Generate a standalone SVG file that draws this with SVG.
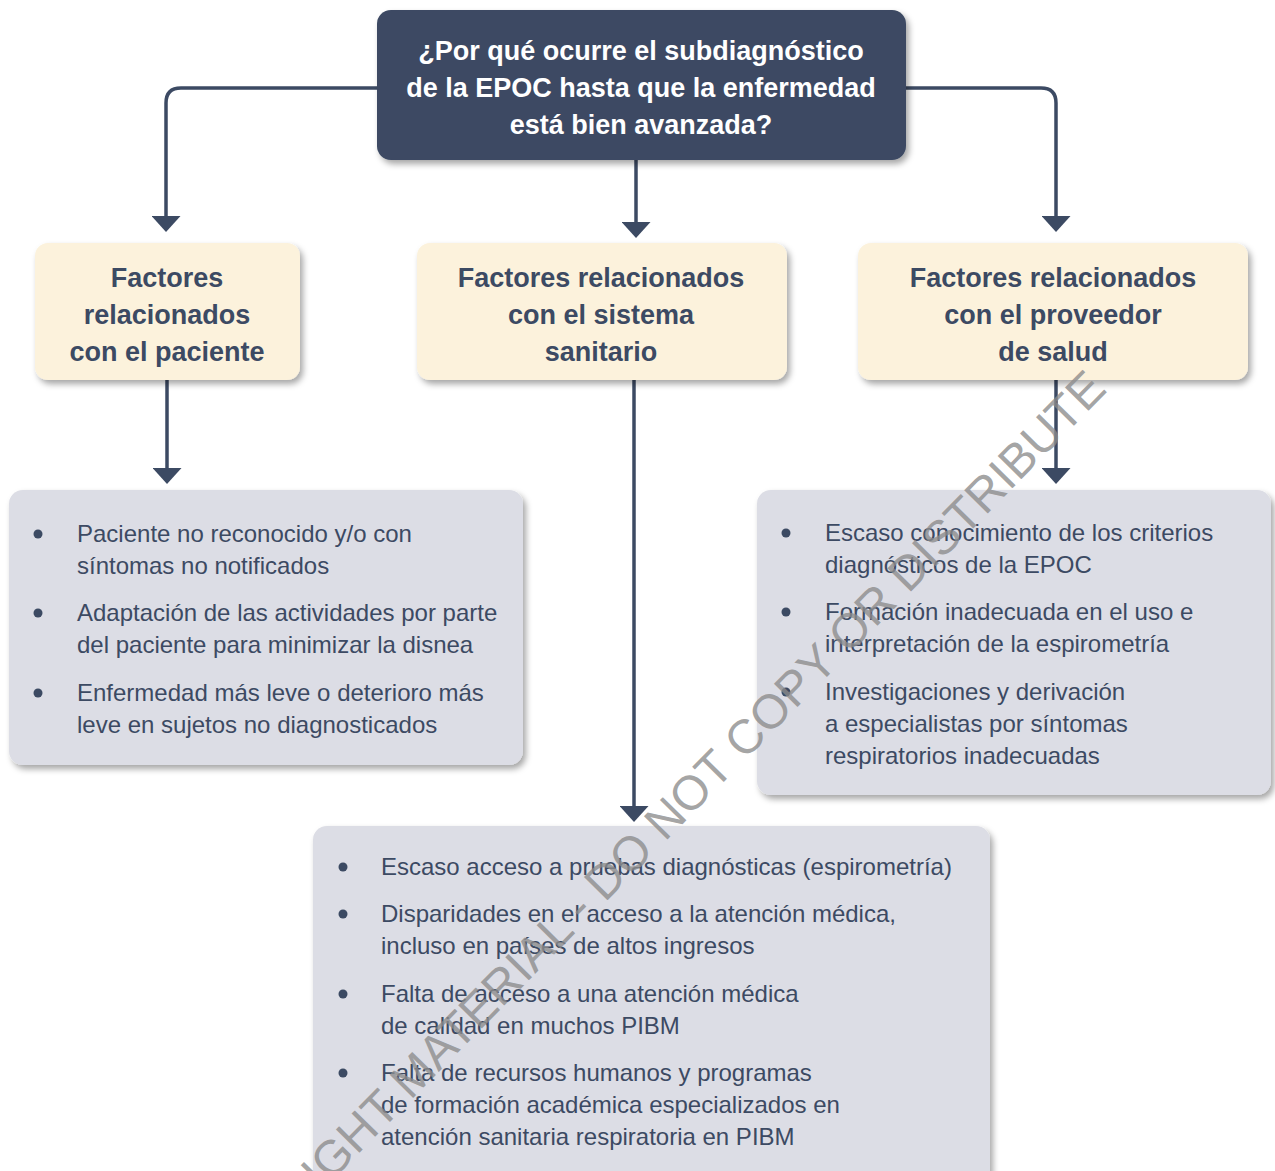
<svg xmlns="http://www.w3.org/2000/svg" width="1275" height="1171" viewBox="0 0 1275 1171">
<defs>
<filter id="sh" x="-10%" y="-10%" width="125%" height="130%">
<feDropShadow dx="3" dy="4" stdDeviation="3" flood-color="#000" flood-opacity="0.35"/>
</filter>
<marker id="ah" markerWidth="29" markerHeight="16" refX="14.5" refY="6" orient="0" markerUnits="userSpaceOnUse">
<path d="M0,0 L29,0 L14.5,16 Z" fill="#3c4a63"/>
</marker>
</defs>
<style>
.title{font-family:"Liberation Sans",Arial,sans-serif;font-weight:bold;font-size:27px;fill:#ffffff;text-anchor:middle}
.head{font-family:"Liberation Sans",Arial,sans-serif;font-weight:bold;font-size:27px;fill:#3c4a63;text-anchor:middle}
.body{font-family:"Liberation Sans",Arial,sans-serif;font-size:24px;fill:#3c4a63}
.dark{fill:#3c4a63}
.cream{fill:#fcf2dc}
.gray{fill:#dcdde5}
.conn{fill:none;stroke:#3c4a63;stroke-width:3.5}
.wm{font-family:"Liberation Sans",Arial,sans-serif;font-size:48px;fill:#8c8c8c;fill-opacity:0.8;text-anchor:middle}
</style>
<rect width="1275" height="1171" fill="#ffffff"/>

<g id="connectors">
<path class="conn" d="M377,88 H181 Q166,88 166,103 V222" marker-end="url(#ah)"/>
<path class="conn" d="M636,160 V228" marker-end="url(#ah)"/>
<path class="conn" d="M906,88 H1041 Q1056,88 1056,103 V222" marker-end="url(#ah)"/>
<path class="conn" d="M167,380 V474" marker-end="url(#ah)"/>
<path class="conn" d="M634,380 V812" marker-end="url(#ah)"/>
<path class="conn" d="M1056,380 V474" marker-end="url(#ah)"/>
</g>

<g id="n-question">
<rect class="dark" x="377" y="10" width="529" height="150" rx="14" filter="url(#sh)"/>
<text class="title" x="641" y="60">¿Por qué ocurre el subdiagnóstico</text>
<text class="title" x="641" y="97">de la EPOC hasta que la enfermedad</text>
<text class="title" x="641" y="134">está bien avanzada?</text>
</g>

<g id="n-paciente">
<rect class="cream" x="35" y="243" width="265" height="137" rx="13" filter="url(#sh)"/>
<text class="head" x="167" y="287">Factores</text>
<text class="head" x="167" y="324">relacionados</text>
<text class="head" x="167" y="361">con el paciente</text>
</g>

<g id="n-sistema">
<rect class="cream" x="417" y="243" width="370" height="137" rx="13" filter="url(#sh)"/>
<text class="head" x="601" y="287">Factores relacionados</text>
<text class="head" x="601" y="324">con el sistema</text>
<text class="head" x="601" y="361">sanitario</text>
</g>

<g id="n-proveedor">
<rect class="cream" x="858" y="243" width="390" height="137" rx="13" filter="url(#sh)"/>
<text class="head" x="1053" y="287">Factores relacionados</text>
<text class="head" x="1053" y="324">con el proveedor</text>
<text class="head" x="1053" y="361">de salud</text>
</g>

<g id="n-lista-paciente">
<rect class="gray" x="9" y="490" width="514" height="275" rx="14" filter="url(#sh)"/>
<circle class="dark" cx="38" cy="534" r="4.5"/>
<circle class="dark" cx="38" cy="613" r="4.5"/>
<circle class="dark" cx="38" cy="693" r="4.5"/>
<text class="body" x="77" y="542">Paciente no reconocido y/o con</text>
<text class="body" x="77" y="574">síntomas no notificados</text>
<text class="body" x="77" y="621">Adaptación de las actividades por parte</text>
<text class="body" x="77" y="653">del paciente para minimizar la disnea</text>
<text class="body" x="77" y="701">Enfermedad más leve o deterioro más</text>
<text class="body" x="77" y="733">leve en sujetos no diagnosticados</text>
</g>

<g id="n-lista-proveedor">
<rect class="gray" x="757" y="490" width="514" height="305" rx="14" filter="url(#sh)"/>
<circle class="dark" cx="786" cy="533" r="4.5"/>
<circle class="dark" cx="786" cy="612" r="4.5"/>
<circle class="dark" cx="786" cy="692" r="4.5"/>
<text class="body" x="825" y="541">Escaso conocimiento de los criterios</text>
<text class="body" x="825" y="573">diagnósticos de la EPOC</text>
<text class="body" x="825" y="620">Formación inadecuada en el uso e</text>
<text class="body" x="825" y="652">interpretación de la espirometría</text>
<text class="body" x="825" y="700">Investigaciones y derivación</text>
<text class="body" x="825" y="732">a especialistas por síntomas</text>
<text class="body" x="825" y="764">respiratorios inadecuadas</text>
</g>

<g id="n-lista-sistema">
<rect class="gray" x="313" y="826" width="677" height="380" rx="14" filter="url(#sh)"/>
<circle class="dark" cx="343" cy="867" r="4.5"/>
<circle class="dark" cx="343" cy="914" r="4.5"/>
<circle class="dark" cx="343" cy="994" r="4.5"/>
<circle class="dark" cx="343" cy="1073" r="4.5"/>
<text class="body" x="381" y="875">Escaso acceso a pruebas diagnósticas (espirometría)</text>
<text class="body" x="381" y="922">Disparidades en el acceso a la atención médica,</text>
<text class="body" x="381" y="954">incluso en países de altos ingresos</text>
<text class="body" x="381" y="1002">Falta de acceso a una atención médica</text>
<text class="body" x="381" y="1034">de calidad en muchos PIBM</text>
<text class="body" x="381" y="1081">Falta de recursos humanos y programas</text>
<text class="body" x="381" y="1113">de formación académica especializados en</text>
<text class="body" x="381" y="1145">atención sanitaria respiratoria en PIBM</text>
</g>

<text class="wm" transform="translate(655,852) rotate(-45.5)">COPYRIGHT MATERIAL - DO NOT COPY OR DISTRIBUTE</text>
</svg>
